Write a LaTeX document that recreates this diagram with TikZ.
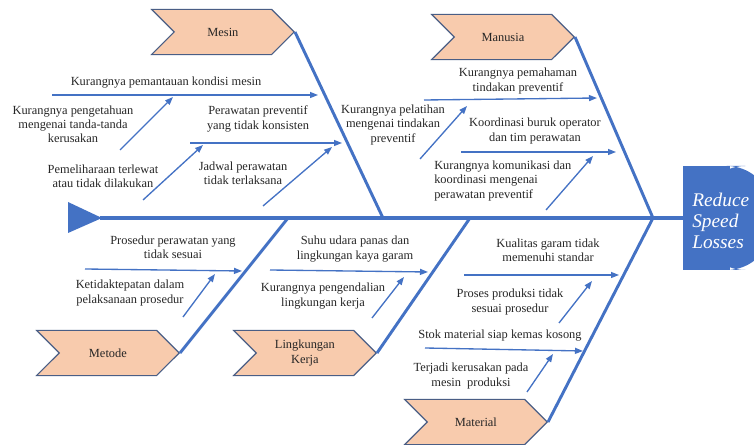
\documentclass[tikz,border=0pt]{standalone}
\usepackage{fontspec}
\setmainfont{Liberation Serif}
\usepackage[]{xcolor}
\usetikzlibrary{arrows.meta,shapes.symbols}
\definecolor{bone}{HTML}{4472C4}
\definecolor{peach}{HTML}{F8CBAD}
\definecolor{boxline}{HTML}{4A5E85}
\begin{document}
\begin{tikzpicture}[x=.75pt,y=-.75pt,
    spine/.style={bone,line width=3.6pt},
    rib/.style={bone,line width=2.2pt},
    cause/.style={bone,line width=1pt,-{Triangle[length=6pt,width=4.5pt]}},
    lbl/.style={inner sep=0pt,align=center,text=black!85,
        font=\fontsize{9.3}{10.6}\selectfont},
    cat/.style={lbl,signal,signal to=east,signal from=west,
        signal pointer angle=90,draw=boxline,fill=peach,line width=.8pt,
        minimum width=107pt,minimum height=34pt,anchor=east},
    effect/.style={anchor=west,minimum height=78pt,text width=50pt,
        inner xsep=6.75pt,align=left,text=white,
        font=\itshape\fontsize{14.5}{15.7}\selectfont}]
    \clip (0,0) rectangle (754,445);
    % head and tail
    \fill[bone] (683,166) rectangle (730,270);
    \fill[bone,rounded corners=34pt] (700,166) rectangle (772,270);
    \node[effect] (effect) at (683,221) {Reduce\\Speed\\Losses};
    \fill[bone] (68,202) -- (102,218) -- (68,233) -- cycle;
    \coordinate (tail) at (100,218);
    \draw[spine] (tail) -- (tail -| effect.west);

    % categories
    \node[cat] (mesin)    at (295,32)  {Mesin};
    \node[cat] (manusia)  at (575,37)  {Manusia};
    \node[cat] (metode)   at (180,353) {Metode};
    \node[cat] (lingk)    at (377,353) {Lingkungan\\Kerja};
    \node[cat] (material) at (548,422) {Material};
    \coordinate (jmesin) at (383,218);
    \coordinate (jmetode) at (288,218);
    \coordinate (jlingk) at (470,218);
    \coordinate (jright) at (653,218);
    \draw[rib] (mesin.east) -- (jmesin);
    \draw[rib] (manusia.east) -- (jright);
    \draw[rib] (metode.east) -- (jmetode);
    \draw[rib] (lingk.east) -- (jlingk);
    \draw[rib] (material.east) -- (jright);

    % Mesin
    \node[lbl] (m1) at (166,83)  {Kurangnya pemantauan kondisi mesin};
    \node[lbl] (m2) at (73,124)  {Kurangnya pengetahuan\\mengenai tanda-tanda\\kerusakan};
    \node[lbl] (m3) at (258,119) {Perawatan preventif\\yang tidak konsisten};
    \node[lbl] (m4) at (103,176) {Pemeliharaan terlewat\\atau tidak dilakukan};
    \node[lbl] (m5) at (243,173) {Jadwal perawatan\\tidak terlaksana};
    \coordinate (m1a) at (52,95);   \coordinate (m1b) at (318,95);
    \coordinate (m2a) at (120,150); \coordinate (m2b) at (173,97);
    \coordinate (m3a) at (190,143); \coordinate (m3b) at (342,143);
    \coordinate (m4a) at (143,200); \coordinate (m4b) at (203,145);
    \coordinate (m5a) at (263,206); \coordinate (m5b) at (332,147);
    \foreach \c in {m1,m2,m3,m4,m5}
        \draw[cause] (\c a) -- (\c b);

    % Manusia
    \node[lbl] (h1) at (518,81)  {Kurangnya pemahaman\\tindakan preventif};
    \node[lbl] (h2) at (393,125) {Kurangnya pelatihan\\mengenai tindakan\\preventif};
    \node[lbl] (h3) at (535,131) {Koordinasi buruk operator\\dan tim perawatan};
    \node[lbl,anchor=west,align=left] (h4) at (434,181) {Kurangnya komunikasi dan\\koordinasi mengenai\\perawatan preventif};
    \coordinate (h1a) at (424,100); \coordinate (h1b) at (597,98);
    \coordinate (h2a) at (420,159); \coordinate (h2b) at (467,106);
    \coordinate (h3a) at (461,152); \coordinate (h3b) at (616,152);
    \coordinate (h4a) at (546,210); \coordinate (h4b) at (593,156);
    \foreach \c in {h1,h2,h3,h4}
        \draw[cause] (\c a) -- (\c b);

    % Metode
    \node[lbl] (d1) at (173,247) {Prosedur perawatan yang\\tidak sesuai};
    \node[lbl] (d2) at (130,293) {Ketidaktepatan dalam\\pelaksanaan prosedur};
    \coordinate (d1a) at (85,269);  \coordinate (d1b) at (242,271);
    \coordinate (d2a) at (183,317); \coordinate (d2b) at (215,274);
    \foreach \c in {d1,d2}
        \draw[cause] (\c a) -- (\c b);

    % Lingkungan Kerja
    \node[lbl] (l1) at (355,249) {Suhu udara panas dan\\lingkungan kaya garam};
    \node[lbl] (l2) at (323,296) {Kurangnya pengendalian\\lingkungan kerja};
    \coordinate (l1a) at (270,270); \coordinate (l1b) at (428,272);
    \coordinate (l2a) at (372,318); \coordinate (l2b) at (404,277);
    \foreach \c in {l1,l2}
        \draw[cause] (\c a) -- (\c b);

    % Material
    \node[lbl] (t1) at (548,250) {Kualitas garam tidak\\memenuhi standar};
    \node[lbl] (t2) at (510,302) {Proses produksi tidak\\sesuai prosedur};
    \node[lbl] (t3) at (500,336) {Stok material siap kemas kosong};
    \node[lbl] (t4) at (471,376) {Terjadi kerusakan pada\\mesin~ produksi};
    \coordinate (t1a) at (464,275); \coordinate (t1b) at (619,275);
    \coordinate (t2a) at (559,323); \coordinate (t2b) at (592,281);
    \coordinate (t3a) at (425,348); \coordinate (t3b) at (583,351);
    \coordinate (t4a) at (527,392); \coordinate (t4b) at (553,354);
    \foreach \c in {t1,t2,t3,t4}
        \draw[cause] (\c a) -- (\c b);
\end{tikzpicture}
\end{document}
